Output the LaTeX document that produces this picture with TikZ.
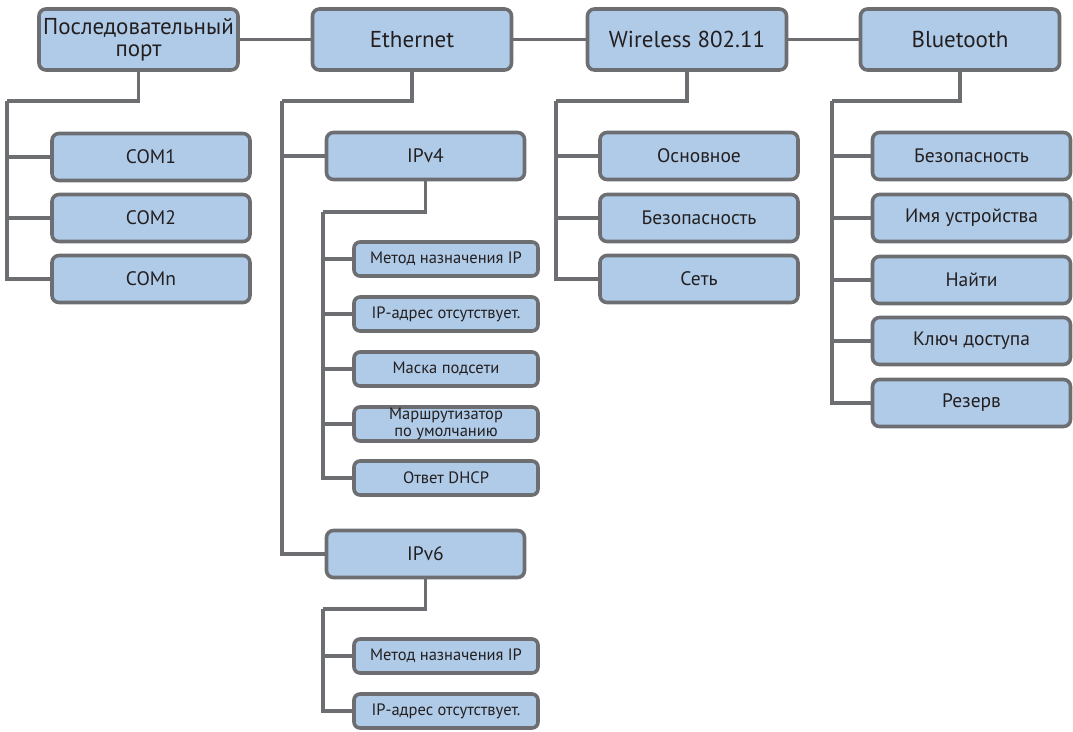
\documentclass[tikz,border=0pt]{standalone}
\usepackage{fontspec}
\setmainfont{PT Sans}
\usetikzlibrary{positioning}
\definecolor{myblue}{HTML}{B0CBE8}
\definecolor{mygray}{HTML}{6D6E71}
\definecolor{mytext}{HTML}{231F20}
\tikzset{
	defaultnode/.style={
			rectangle,
			rounded corners=7pt,
			draw=mygray,
			fill=myblue,
			line width=3.6pt,
			text=mytext,
			align=center,
			inner sep=0pt
		},
	topnode/.style={
			defaultnode,
			minimum width=199pt,
			minimum height=61pt,
			font=\fontsize{23}{22.5}\selectfont
		},
	subnode/.style={
			defaultnode,
			minimum width=198pt,
			minimum height=47pt,
			font=\fontsize{19.5}{21}\selectfont
		},
	leafnode/.style={
			defaultnode,
			rounded corners=6pt,
			minimum width=184pt,
			minimum height=34pt,
			font=\fontsize{16.5}{17.5}\selectfont
		},
	link/.style={
			draw=mygray,
			line width=3.6pt
		}
}
\begin{document}
\begin{tikzpicture}[x=1pt,y=-1pt]
\useasboundingbox (0,0) rectangle (1073,731);

% top row
\node[topnode] (tSerial) at (138.5,39.5) {Последовательный\\порт};
\node[topnode] (tEth) at (412,39.5) {Ethernet};
\node[topnode] (tWifi) at (687,39.5) {Wireless 802.11};
\node[topnode] (tBt) at (960,39.5) {Bluetooth};

% serial port
\node[subnode] (tCom1) at (151,157) {COM1};
\node[subnode] (tCom2) at (151,218) {COM2};
\node[subnode] (tComn) at (151,279) {COMn};

% ethernet
\node[subnode] (tIpv4) at (425.5,156) {IPv4};
\node[subnode] (tIpv6) at (425.5,554) {IPv6};
\node[leafnode] (tMeth4) at (446,259) {Метод назначения IP};
\node[leafnode] (tAddr4) at (446,314) {IP-адрес отсутствует.};
\node[leafnode] (tMask) at (446,369) {Маска подсети};
\node[leafnode] (tGate) at (446,424) {Маршрутизатор\\по умолчанию};
\node[leafnode] (tDhcp) at (446,478) {Ответ DHCP};
\node[leafnode] (tMeth6) at (446,656) {Метод назначения IP};
\node[leafnode] (tAddr6) at (446,711) {IP-адрес отсутствует.};

% wireless
\node[subnode] (tBasic) at (699,156) {Основное};
\node[subnode] (tWsec) at (699,218) {Безопасность};
\node[subnode] (tNet) at (699,279) {Сеть};

% bluetooth
\node[subnode] (tBsec) at (971.5,156) {Безопасность};
\node[subnode] (tName) at (971.5,218) {Имя устройства};
\node[subnode] (tFind) at (971.5,280) {Найти};
\node[subnode] (tKey) at (971.5,341) {Ключ доступа};
\node[subnode] (tSpare) at (971.5,403) {Резерв};

\coordinate (serialbus) at (7,101);
\coordinate (ethbus) at (282,101);
\coordinate (ipv4bus) at (323,212);
\coordinate (ipv6bus) at (323,609);
\coordinate (wifibus) at (556,101);
\coordinate (btbus) at (832,101);

\draw[link] (tSerial) -- (tEth);
\draw[link] (tEth) -- (tWifi);
\draw[link] (tWifi) -- (tBt);

\draw[link] (tSerial.south) |- (serialbus);
\foreach \n in {tCom1,tCom2,tComn}
	\draw[link] (serialbus) |- (\n.west);

\draw[link] (tEth.south) |- (ethbus);
\draw[link] (ethbus) |- (tIpv4.west);
\draw[link] (ethbus) |- (tIpv6.west);
\draw[link] (tIpv4.south) |- (ipv4bus);
\foreach \n in {tMeth4,tAddr4,tMask,tGate,tDhcp}
	\draw[link] (ipv4bus) |- (\n.west);
\draw[link] (tIpv6.south) |- (ipv6bus);
\foreach \n in {tMeth6,tAddr6}
	\draw[link] (ipv6bus) |- (\n.west);

\draw[link] (tWifi.south) |- (wifibus);
\foreach \n in {tBasic,tWsec,tNet}
	\draw[link] (wifibus) |- (\n.west);

\draw[link] (tBt.south) |- (btbus);
\foreach \n in {tBsec,tName,tFind,tKey,tSpare}
	\draw[link] (btbus) |- (\n.west);

\end{tikzpicture}
\end{document}
